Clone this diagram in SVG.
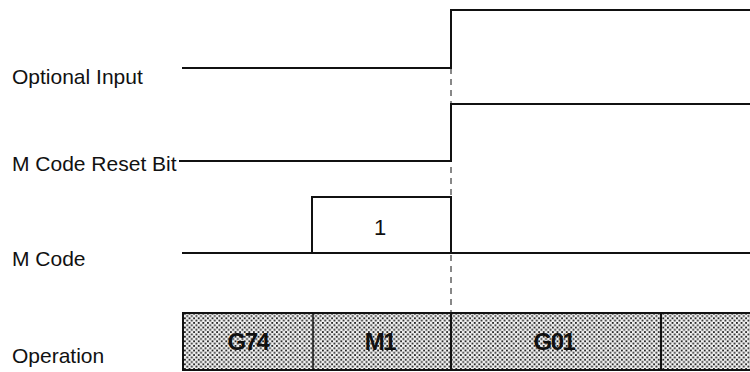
<svg xmlns="http://www.w3.org/2000/svg" width="750" height="372" viewBox="0 0 750 372">
<style>
.lbl{font-family:"Liberation Sans",Arial,sans-serif;font-size:21px;fill:#111}
.sig{fill:none;stroke:#111;stroke-width:2}
.op{font-family:"Liberation Sans",Arial,sans-serif;font-size:24px;font-weight:bold;fill:#111;text-anchor:middle;letter-spacing:-1.5px}
.num{font-family:"Liberation Sans",Arial,sans-serif;font-size:22px;fill:#111;text-anchor:middle}
</style>
<defs>
<pattern id="dots" width="4.6" height="4.6" patternUnits="userSpaceOnUse">
<rect width="4.6" height="4.6" fill="#f2f2f2"/>
<rect x="0" y="0" width="1.8" height="1.8" fill="#222"/>
<rect x="2.3" y="2.3" width="1.8" height="1.8" fill="#222"/>
</pattern>
</defs>
<g id="labels">
<text class="lbl" x="12" y="84">Optional Input</text>
<text class="lbl" x="12" y="171">M Code Reset Bit</text>
<text class="lbl" x="12" y="266">M Code</text>
<text class="lbl" x="12" y="363">Operation</text>
</g>
<g id="connectors">
<line x1="451" y1="68" x2="451" y2="313" stroke="#111" stroke-width="1" stroke-dasharray="6,5"/>
</g>
<g id="optional-input">
<path class="sig" d="M182 68 H451 V10 H750"/>
</g>
<g id="reset-bit">
<path class="sig" d="M179 161 H451 V104 H750"/>
</g>
<g id="m-code">
<path class="sig" d="M182 253 H750"/>
<path class="sig" d="M312 253 V197 H451 V253"/>
<text class="num" x="380" y="235">1</text>
</g>
<g id="operation">
<rect x="183" y="313" width="580" height="57" fill="url(#dots)" stroke="#111" stroke-width="2"/>
<line x1="313" y1="313" x2="313" y2="370" stroke="#111" stroke-width="1.5"/>
<line x1="451" y1="313" x2="451" y2="370" stroke="#111" stroke-width="2"/>
<line x1="661" y1="313" x2="661" y2="370" stroke="#111" stroke-width="2"/>
<text class="op" x="248" y="350">G74</text>
<text class="op" x="380" y="350">M1</text>
<text class="op" x="554" y="350">G01</text>
</g>
</svg>
